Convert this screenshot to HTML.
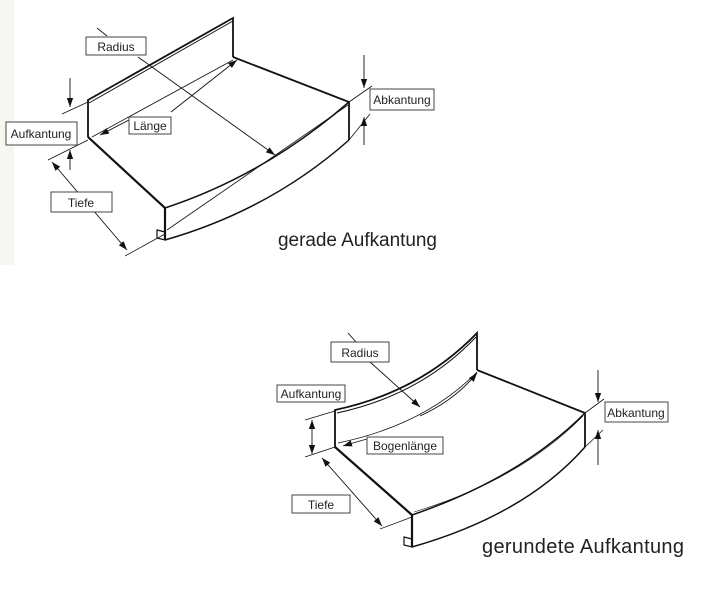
<!DOCTYPE html>
<html><head><meta charset="utf-8"><style>
html,body{margin:0;padding:0;background:#fff;}
svg{display:block;}
text{font-family:"Liberation Sans",sans-serif;fill:#222;}
</style></head><body>
<svg width="720" height="600" viewBox="0 0 720 600" xmlns="http://www.w3.org/2000/svg">
<defs>
<marker id="a" viewBox="0 0 10 10" refX="10" refY="5" markerWidth="9" markerHeight="9" orient="auto-start-reverse" markerUnits="userSpaceOnUse"><path d="M0,1.5 L10,5 L0,8.5 z" fill="#111"/></marker>
</defs>
<rect x="0" y="0" width="14" height="265" fill="#f8f6f1"/>

<!-- TOP DIAGRAM -->
<g stroke="#111" fill="none">
<path d="M88,137 L88,100 L233,18 L233,57" stroke-width="1.8"/>
<path d="M89,103 L233,21" stroke-width="1"/>
<path d="M233,57 L349,102 L349,140" stroke-width="1.8"/>
<path d="M88,137 L165,208 L165,240" stroke-width="2.2"/>
<path d="M165,208 Q265,175 349,102" stroke-width="1.5"/>
<path d="M165,240 Q270,210 349,140" stroke-width="1.5"/>
<path d="M157,230 L165,232 L165,240 L157,238 z" stroke-width="1.2"/>
<path d="M92,137 L233,60" stroke-width="0.8"/>
<path d="M167,230 L348,105" stroke-width="0.8"/>
<path d="M100,135 L129,120" stroke-width="0.9" marker-start="url(#a)"/>
<path d="M171,112 L237,60" stroke-width="0.9" marker-end="url(#a)"/>
<path d="M97,28 L107,36" stroke-width="0.9"/>
<path d="M138,57 L275,155" stroke-width="0.9" marker-end="url(#a)"/>
<path d="M70,78 L70,107" stroke-width="0.9" marker-end="url(#a)"/>
<path d="M70,170 L70,150" stroke-width="0.9" marker-end="url(#a)"/>
<path d="M62,114 L88,102" stroke-width="0.8"/>
<path d="M48,160 L88,140" stroke-width="0.8"/>
<path d="M52,162 L127,250" stroke-width="0.9" marker-start="url(#a)" marker-end="url(#a)"/>
<path d="M125,256 L165,234" stroke-width="0.8"/>
<path d="M364,55 L364,88" stroke-width="0.9" marker-end="url(#a)"/>
<path d="M364,145 L364,117" stroke-width="0.9" marker-end="url(#a)"/>
<path d="M349,102 L372,86" stroke-width="0.8"/>
<path d="M349,140 L370,114" stroke-width="0.8"/>
</g>
<g fill="#fff" stroke="#444" stroke-width="1">
<rect x="86" y="37" width="60" height="18"/>
<rect x="129" y="117" width="42" height="17"/>
<rect x="6" y="122" width="71" height="23"/>
<rect x="51" y="192" width="61" height="20"/>
<rect x="370" y="89" width="64" height="21"/>
</g>
<text x="116" y="51" font-size="12" text-anchor="middle">Radius</text>
<text x="150" y="130" font-size="12" text-anchor="middle">Länge</text>
<text x="41" y="138" font-size="12" text-anchor="middle">Aufkantung</text>
<text x="81" y="207" font-size="12" text-anchor="middle">Tiefe</text>
<text x="402" y="104" font-size="12" text-anchor="middle">Abkantung</text>
<text x="278" y="246" font-size="19" textLength="159">gerade Aufkantung</text>

<!-- BOTTOM DIAGRAM -->
<g stroke="#111" fill="none">
<path d="M335,447 L335,410 Q420,392 477,333 L477,370" stroke-width="1.8"/>
<path d="M337,413 Q421,395 476,337" stroke-width="1"/>
<path d="M477,370 L585,413 L585,447" stroke-width="1.8"/>
<path d="M335,447 L412,515 L412,547" stroke-width="2.2"/>
<path d="M412,515 Q520,478 585,413" stroke-width="1.5"/>
<path d="M412,547 Q525,515 585,447" stroke-width="1.5"/>
<path d="M404,537 L412,539 L412,547 L404,545 z" stroke-width="1.2"/>
<path d="M338,443 Q425,425 477,372" stroke-width="0.8"/>
<path d="M414,512 Q520,480 583,416" stroke-width="0.6"/>
<path d="M343,446 Q356,442 367,439" stroke-width="0.9" marker-start="url(#a)"/>
<path d="M420,416 Q455,400 477,373" stroke-width="0.9" marker-end="url(#a)"/>
<path d="M348,333 L356,342" stroke-width="0.9"/>
<path d="M370,362 L420,407" stroke-width="0.9" marker-end="url(#a)"/>
<path d="M312,420 L312,454" stroke-width="0.9" marker-start="url(#a)" marker-end="url(#a)"/>
<path d="M305,420 L335,411" stroke-width="0.8"/>
<path d="M305,457 L335,447" stroke-width="0.8"/>
<path d="M322,458 L382,526" stroke-width="0.9" marker-start="url(#a)" marker-end="url(#a)"/>
<path d="M380,529 L412,517" stroke-width="0.8"/>
<path d="M598,370 L598,402" stroke-width="0.9" marker-end="url(#a)"/>
<path d="M598,465 L598,430" stroke-width="0.9" marker-end="url(#a)"/>
<path d="M585,413 L604,399" stroke-width="0.8"/>
<path d="M585,447 L603,430" stroke-width="0.8"/>
</g>
<g fill="#fff" stroke="#444" stroke-width="1">
<rect x="331" y="342" width="58" height="20"/>
<rect x="277" y="385" width="68" height="17"/>
<rect x="367" y="437" width="76" height="17"/>
<rect x="292" y="495" width="58" height="18"/>
<rect x="605" y="402" width="63" height="20"/>
</g>
<text x="360" y="357" font-size="12" text-anchor="middle">Radius</text>
<text x="311" y="398" font-size="12" text-anchor="middle">Aufkantung</text>
<text x="405" y="450" font-size="12" text-anchor="middle">Bogenlänge</text>
<text x="321" y="509" font-size="12" text-anchor="middle">Tiefe</text>
<text x="636" y="417" font-size="12" text-anchor="middle">Abkantung</text>
<text x="482" y="553" font-size="20" textLength="202">gerundete Aufkantung</text>
</svg>
</body></html>
